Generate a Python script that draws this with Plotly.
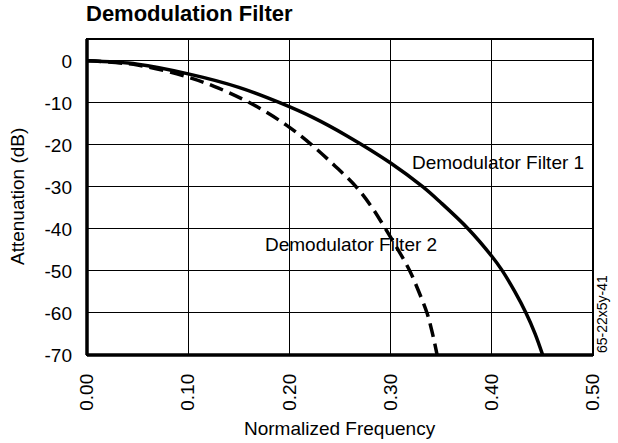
import plotly.graph_objects as go

# Demodulator filter responses (normalized frequency vs attenuation in dB)
f1_freq = [0.00, 0.05, 0.10, 0.15, 0.191, 0.2236, 0.2566, 0.30, 0.332, 0.349, 0.3768, 0.40, 0.41, 0.4229, 0.4338, 0.4427, 0.4503]
f1_db = [0.0, -0.8, -3.1, -6.3, -10.0, -13.5, -17.8, -24.3, -30.0, -33.6, -40.0, -46.5, -49.8, -55.0, -60.0, -64.9, -70.0]

f2_freq = [0.00, 0.05, 0.10, 0.13, 0.164, 0.197, 0.222, 0.245, 0.266, 0.282, 0.295, 0.308, 0.319, 0.328, 0.336, 0.341, 0.346]
f2_db = [0.0, -1.0, -3.9, -6.5, -10.4, -15.3, -20.0, -25.0, -30.0, -35.0, -40.0, -45.2, -50.0, -55.0, -60.0, -64.5, -70.0]

x_ticks = [0.0, 0.1, 0.2, 0.3, 0.4, 0.5]
x_tick_text = ["0.00", "0.10", "0.20", "0.30", "0.40", "0.50"]
y_ticks = [0, -10, -20, -30, -40, -50, -60, -70]
y_tick_text = ["0", "-10", "-20", "-30", "-40", "-50", "-60", "-70"]

FONT = "Liberation Sans, Arial, sans-serif"

fig = go.Figure()
fig.add_trace(go.Scatter(x=f1_freq, y=f1_db, mode="lines",
                         line=dict(color="black", width=3.5, shape="spline", smoothing=1.0),
                         showlegend=False))
fig.add_trace(go.Scatter(x=f2_freq, y=f2_db, mode="lines",
                         line=dict(color="black", width=3.5, dash="14px,7px", shape="spline", smoothing=1.0),
                         showlegend=False))

fig.update_layout(
    width=618, height=443,
    margin=dict(l=87, r=25, t=39, b=88),
    paper_bgcolor="white", plot_bgcolor="white",
    font=dict(family=FONT, size=19, color="black"),
    xaxis=dict(range=[0, 0.5], tickvals=x_ticks, ticktext=x_tick_text, tickangle=-90,
               showgrid=True, gridcolor="black", gridwidth=1, zeroline=False,
               showline=False, ticks="", ticklabelstandoff=14,
               tickfont=dict(size=19)),
    yaxis=dict(range=[-70, 5.2], tickvals=y_ticks, ticktext=y_tick_text,
               showgrid=True, gridcolor="black", gridwidth=1, zeroline=False,
               showline=False, ticks="", ticklabelstandoff=14,
               tickfont=dict(size=19)),
    shapes=[
        # plot frame: thin top/right, heavier left/bottom
        dict(type="rect", xref="paper", yref="paper", x0=0, x1=1, y0=0, y1=1,
             line=dict(color="black", width=2)),
        dict(type="line", xref="paper", yref="paper", x0=0, x1=0, y0=0, y1=1,
             line=dict(color="black", width=3.5)),
        dict(type="line", xref="paper", yref="paper", x0=0, x1=1, y0=0, y1=0,
             line=dict(color="black", width=3.5)),
    ],
    annotations=[
        dict(text="<b>Demodulation Filter</b>", xref="paper", yref="paper",
             x=0, y=1, xanchor="left", yanchor="bottom", yshift=11, xshift=-3, showarrow=False,
             font=dict(size=22)),
        dict(text="Attenuation (dB)", xref="paper", yref="paper", x=0, y=0.5,
             xanchor="center", yanchor="middle", xshift=-70, textangle=-90,
             showarrow=False, font=dict(size=19)),
        dict(text="Normalized Frequency", xref="paper", yref="paper", x=0.5, y=0,
             xanchor="center", yanchor="middle", yshift=-73,
             showarrow=False, font=dict(size=19)),
        dict(text="Demodulator Filter 1", x=0.406, y=-24.3, xanchor="center", yanchor="middle",
             showarrow=False, font=dict(size=19)),
        dict(text="Demodulator Filter 2", x=0.261, y=-43.7, xanchor="center", yanchor="middle",
             showarrow=False, font=dict(size=19)),
        dict(text="65-22x5y-41", xref="paper", yref="paper", x=1, y=0,
             xanchor="left", yanchor="bottom", xshift=-1, textangle=-90,
             showarrow=False, font=dict(size=14)),
    ],
)

fig.write_html("out.html")
